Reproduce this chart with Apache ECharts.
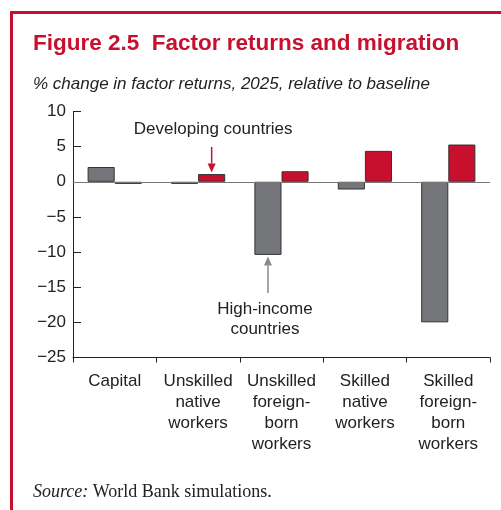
<!DOCTYPE html>
<html><head><meta charset="utf-8">
<script src="https://cdn.jsdelivr.net/npm/echarts@6/dist/echarts.min.js"></script>
<style>html,body{margin:0;padding:0;background:#fff;}#c{width:501px;height:510px;}</style>
</head><body><div id="c"></div>
<script>
const categories = ["Capital", "Unskilled\nnative\nworkers", "Unskilled\nforeign-\nborn\nworkers", "Skilled\nnative\nworkers", "Skilled\nforeign-\nborn\nworkers"];
const highIncome = [2.1, -0.3, -10.4, -1.1, -20.0];
const developing = [-0.3, 1.1, 1.5, 4.4, 5.3];
const yTicks = {min: -25, max: 10, interval: 5};

const FONT = "'Liberation Sans', Arial, Helvetica, sans-serif";
const SERIF = "'Liberation Serif', 'Times New Roman', serif";
const RED = '#c8102e';
const GRAY = '#75767a';
const chart = echarts.init(document.getElementById('c'), null, {renderer: 'canvas'});

const option = {
  animation: false,
  backgroundColor: '#fff',
  grid: {left: 73, right: 11, top: 111.5, bottom: 152.5},
  xAxis: {
    type: 'category', data: categories,
    axisLine: {onZero: false, lineStyle: {color: '#222', width: 1}},
    axisTick: {show: true, inside: false, length: 5, lineStyle: {color: '#222'}},
    axisLabel: {interval: 0, margin: 13, fontFamily: FONT, fontSize: 17, lineHeight: 21, color: '#222'}
  },
  yAxis: {
    type: 'value', min: yTicks.min, max: yTicks.max, interval: yTicks.interval,
    splitLine: {show: false},
    axisLine: {show: true, lineStyle: {color: '#222', width: 1}},
    axisTick: {show: true, inside: true, length: 8, lineStyle: {color: '#222'}},
    axisLabel: {margin: 7, fontFamily: FONT, fontSize: 17, color: '#222',
      formatter: v => (v < 0 ? '\u2212' + Math.abs(v) : String(v))}
  },
  series: [
    {name: 'High-income countries', type: 'bar', data: highIncome, barGap: '0%', barCategoryGap: '35%',
     itemStyle: {color: GRAY, borderColor: '#333', borderWidth: 1},
     markLine: {silent: true, symbol: 'none', label: {show: false},
       lineStyle: {color: '#777', type: 'solid', width: 1.2}, data: [{yAxis: 0}]}},
    {name: 'Developing countries', type: 'bar', data: developing,
     itemStyle: {color: RED, borderColor: '#333', borderWidth: 1}}
  ],
  graphic: []
};
chart.setOption(option);

// annotations anchored to data through the axes
const pDev = chart.convertToPixel({seriesIndex: 1}, [1, developing[1]]);
const pHi = chart.convertToPixel({seriesIndex: 0}, [2, highIncome[2]]);
const catW = chart.convertToPixel({xAxisIndex: 0}, 1) - chart.convertToPixel({xAxisIndex: 0}, 0);
const barOff = catW * 0.65 / 4;
const devX = pDev[0] + barOff, devTip = pDev[1] - 1.5;
const hiX = pHi[0] - barOff, hiTip = pHi[1] + 1.5;

function arrow(x, tipY, tailY, color, up) {
  const h = 9, w = 4;
  const dir = up ? 1 : -1;
  return [
    {type: 'line', shape: {x1: x, y1: tailY, x2: x, y2: tipY + dir * h}, style: {stroke: color, lineWidth: 1.5}},
    {type: 'polygon', shape: {points: [[x, tipY], [x - w, tipY + dir * h], [x + w, tipY + dir * h]]}, style: {fill: color}}
  ];
}

const graphics = [
  {type: 'rect', shape: {x: 11.5, y: 12.5, width: 600, height: 600}, style: {fill: null, stroke: RED, lineWidth: 3}, silent: true},
  {type: 'text', x: 33, y: 44, style: {text: 'Figure 2.5  Factor returns and migration', font: "bold 22.5px " + FONT, fill: RED, verticalAlign: 'middle'}},
  {type: 'text', x: 33, y: 84, style: {text: '% change in factor returns, 2025, relative to baseline', font: "italic 17px " + FONT, fill: '#222', verticalAlign: 'middle'}},
  {type: 'text', x: devX + 1.5, y: 129, style: {text: 'Developing countries', font: "17px " + FONT, fill: '#222', align: 'center', verticalAlign: 'middle'}},
  ...arrow(devX, devTip, 147, RED, false),
  {type: 'text', x: hiX - 3, y: 319.5, style: {text: 'High-income\ncountries', font: "17px " + FONT, lineHeight: 20, fill: '#222', align: 'center', verticalAlign: 'middle'}},
  ...arrow(hiX, hiTip, 293, '#8a8a8a', true),
  {type: 'text', x: 33, y: 492, style: {verticalAlign: 'middle', rich: {i: {font: "italic 18px " + SERIF, fill: '#222'}, n: {font: "18px " + SERIF, fill: '#222'}}, text: '{i|Source:}{n| World Bank simulations.}'}}
];
chart.setOption({graphic: graphics});
</script></body></html>
